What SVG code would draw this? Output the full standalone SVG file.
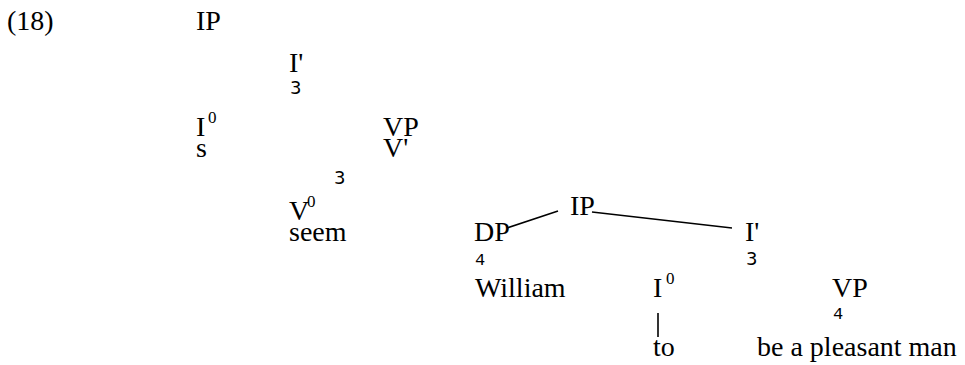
<svg xmlns="http://www.w3.org/2000/svg" width="965" height="365" viewBox="0 0 965 365">
  <style>
    text { fill: #000; }
    .lbl { font-family: 'Liberation Serif', 'Times New Roman', serif; font-size: 28px; }
    .sup { font-family: 'Liberation Serif', 'Times New Roman', serif; font-size: 17px; }
    .tri { font-family: 'DejaVu Sans', sans-serif; font-size: 18px; }
    .roof { font-family: 'Liberation Mono', monospace; font-size: 17px; }
    .edge { stroke: #000; stroke-width: 1.6; fill: none; }
  </style>
  <rect width="965" height="365" fill="#fff"/>

  <text class="lbl" x="7" y="30" font-family="Liberation Serif, serif">(18)</text>

  <!-- matrix clause -->
  <g id="ip-top"><text class="lbl" x="196" y="30">IP</text></g>
  <g id="ibar-top">
    <text class="lbl" x="289" y="72">I'</text>
    <text class="tri" x="290" y="94">3</text>
  </g>
  <g id="i0-top">
    <text class="lbl" x="196" y="136">I</text>
    <text class="sup" x="208" y="123">0</text>
  </g>
  <g id="s"><text class="lbl" x="196" y="157">s</text></g>
  <g id="vp-top"><text class="lbl" x="383" y="136">VP</text></g>
  <g id="vbar">
    <text class="lbl" x="383" y="157">V'</text>
    <text class="tri" x="334" y="184">3</text>
  </g>
  <g id="v0">
    <text class="lbl" x="289" y="220">V</text>
    <text class="sup" x="307" y="207">0</text>
  </g>
  <g id="seem"><text class="lbl" x="289" y="241">seem</text></g>

  <!-- embedded clause -->
  <g id="ip-low"><text class="lbl" x="570" y="215">IP</text></g>
  <g id="dp">
    <text class="lbl" x="474" y="241">DP</text>
    <text class="roof" x="475" y="265">4</text>
  </g>
  <g id="william"><text class="lbl" x="475" y="297">William</text></g>
  <g id="ibar-low">
    <text class="lbl" x="745" y="241">I'</text>
    <text class="tri" x="746" y="265">3</text>
  </g>
  <g id="i0-low">
    <text class="lbl" x="653" y="297">I</text>
    <text class="sup" x="666" y="284">0</text>
  </g>
  <g id="to"><text class="lbl" x="653" y="356">to</text></g>
  <g id="vp-low">
    <text class="lbl" x="832" y="297">VP</text>
    <text class="roof" x="833" y="319">4</text>
  </g>
  <g id="pred"><text class="lbl" x="757" y="356">be a pleasant man</text></g>

  <g id="connectors">
    <line class="edge" x1="201" y1="121" x2="201" y2="133"/>
    <line class="edge" x1="507" y1="228" x2="558" y2="211"/>
    <line class="edge" x1="592" y1="212" x2="732" y2="228"/>
    <line class="edge" x1="658" y1="313" x2="658" y2="337"/>
  </g>
</svg>
